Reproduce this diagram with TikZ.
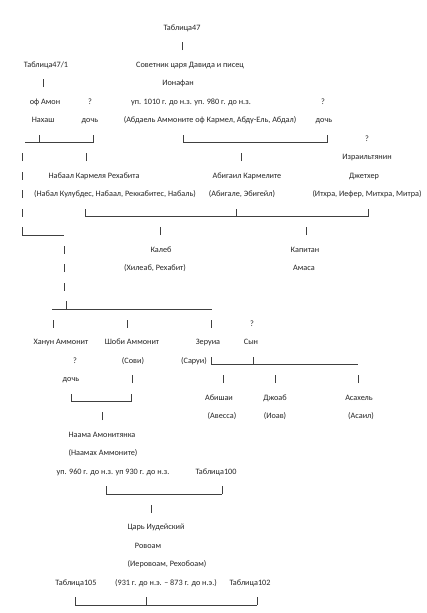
\documentclass[tikz,border=0pt]{standalone}
\usepackage{fontspec}
\setmainfont{Carlito}
\newcommand\vb[3]{\coordinate (#1a) at (#2,{30+18.5*#3+1.7}); \coordinate (#1b) at (#2,{30+18.5*#3-6.3}); \draw[ln] (#1a) -- (#1b);}
\newcommand\hb[4]{\coordinate (#1a) at (#2,{30+18.5*#4+1.3}); \coordinate (#1b) at (#3,{30+18.5*#4+1.3}); \draw[ln] (#1a) -- (#1b);}
\begin{document}
\begin{tikzpicture}[x=1pt,y=-1pt,
  txt/.style={font=\fontsize{8.2}{10}\selectfont, inner sep=0pt, anchor=base, text=black!85},
  ln/.style={line width=0.55pt, draw=black!75}]
\fill[white] (0,0) rectangle (427,613);
\useasboundingbox (0,0) rectangle (427,613);
% row 0-3
\node[txt] (t47) at (182,{30+18.5*0}) {Таблица47};
\vb{b1}{182}{1}
\node[txt] (t471) at (46,{30+18.5*2}) {Таблица47/1};
\node[txt] (sovet) at (190,{30+18.5*2}) {Советник царя Давида и писец};
\vb{b3}{43}{3}
\node[txt] (ionafan) at (178,{30+18.5*3}) {Ионафан};
% row 4-5
\node[txt] (ofamon) at (45,{30+18.5*4}) {оф Амон};
\node[txt] (q1) at (90,{30+18.5*4}) {?};
\node[txt] (up1010) at (191,{30+18.5*4}) {уп. 1010 г. до н.з. уп. 980 г. до н.з.};
\node[txt] (q2) at (323,{30+18.5*4}) {?};
\node[txt] (nahash) at (43,{30+18.5*5}) {Нахаш};
\node[txt] (doch1) at (90,{30+18.5*5}) {дочь};
\node[txt] (abdael) at (210,{30+18.5*5}) {(Абдаель Аммоните оф Кармел, Абду-Ель, Абдал)};
\node[txt] (doch2) at (324,{30+18.5*5}) {дочь};
% row 6
\hb{h6a}{25}{93}{6}
\vb{b6a}{39}{6}
\vb{b6b}{93}{6}
\hb{h6b}{183}{327}{6}
\vb{b6c}{183}{6}
\vb{b6d}{327}{6}
\node[txt] (q3) at (367,{30+18.5*6}) {?};
% row 7-9
\vb{b7a}{22}{7}
\vb{b7b}{86}{7}
\vb{b7c}{241}{7}
\node[txt] (israel) at (367,{30+18.5*7}) {Израильтянин};
\vb{b8a}{22}{8}
\node[txt] (nabaal) at (94,{30+18.5*8}) {Набаал Кармеля Рехабита};
\node[txt] (abigail) at (247,{30+18.5*8}) {Абигаил Кармелите};
\node[txt] (jether) at (364,{30+18.5*8}) {Джетхер};
\vb{b9a}{22}{9}
\node[txt] (nabal) at (115,{30+18.5*9}) {(Набал Кулубдес, Набаал, Реккабитес, Набаль)};
\node[txt] (abigale) at (242,{30+18.5*9}) {(Абигале, Эбигейл)};
\node[txt] (ithra) at (367,{30+18.5*9}) {(Итхра, Иефер, Митхра, Митра)};
% row 10
\vb{b10a}{22}{10}
\hb{h10}{85}{368}{10}
\vb{b10b}{85}{10}
\vb{b10c}{236}{10}
\vb{b10d}{368}{10}
% row 11-14
\vb{b11a}{22}{11}
\hb{h11}{22}{64}{11}
\vb{b11b}{160}{11}
\vb{b11c}{306}{11}
\vb{b12}{64}{12}
\node[txt] (kaleb) at (161,{30+18.5*12}) {Калеб};
\node[txt] (kapitan) at (305,{30+18.5*12}) {Капитан};
\vb{b13}{64}{13}
\node[txt] (hileab) at (155,{30+18.5*13}) {(Хилеаб, Рехабит)};
\node[txt] (amasa) at (304,{30+18.5*13}) {Амаса};
\vb{b14}{64}{14}
% row 15-16
\hb{h15}{52}{212}{15}
\vb{b15}{66}{15}
\vb{b16a}{53}{16}
\vb{b16b}{127}{16}
\vb{b16c}{211}{16}
\node[txt] (q4) at (252,{30+18.5*16}) {?};
% row 17-18
\node[txt] (hanun) at (61,{30+18.5*17}) {Ханун Аммонит};
\node[txt] (shobi) at (132,{30+18.5*17}) {Шоби Аммонит};
\node[txt] (zeruia) at (208,{30+18.5*17}) {Зеруиа};
\node[txt] (syn) at (251,{30+18.5*17}) {Сын};
\node[txt] (q5) at (75,{30+18.5*18}) {?};
\node[txt] (sovi) at (133,{30+18.5*18}) {(Сови)};
\node[txt] (sarui) at (194,{30+18.5*18}) {(Саруи)};
\hb{h18}{211}{358}{18}
\vb{b18a}{211}{18}
\vb{b18b}{253}{18}
% row 19-21
\node[txt] (doch3) at (71,{30+18.5*19}) {дочь};
\vb{b19a}{132}{19}
\vb{b19b}{223}{19}
\vb{b19c}{275}{19}
\vb{b19d}{358}{19}
\hb{h20}{71}{131}{20}
\vb{b20a}{71}{20}
\vb{b20b}{131}{20}
\node[txt] (abishai) at (219,{30+18.5*20}) {Абишаи};
\node[txt] (joab) at (275,{30+18.5*20}) {Джоаб};
\node[txt] (asahel) at (359,{30+18.5*20}) {Асахель};
\vb{b21}{102}{21}
\node[txt] (avessa) at (222,{30+18.5*21}) {(Авесса)};
\node[txt] (ioav) at (275,{30+18.5*21}) {(Иоав)};
\node[txt] (asail) at (361,{30+18.5*21}) {(Асаил)};
% row 22-26
\node[txt] (naama) at (102,{30+18.5*22}) {Наама Амонитянка};
\node[txt] (naamah) at (103,{30+18.5*23}) {(Наамах Аммоните)};
\node[txt] (up960) at (113,{30+18.5*24}) {уп. 960 г. до н.з. уп 930 г. до н.з.};
\node[txt] (t100) at (216,{30+18.5*24}) {Таблица100};
\hb{h25}{106}{222}{25}
\vb{b25a}{106}{25}
\vb{b25b}{222}{25}
\vb{b26}{151}{26}
% row 27-31
\node[txt] (tsar) at (156,{30+18.5*27}) {Царь Иудейский};
\node[txt] (rovoam) at (148,{30+18.5*28}) {Ровоам};
\node[txt] (ierovoam) at (167,{30+18.5*29}) {(Иеровоам, Рехобоам)};
\node[txt] (t105) at (76,{30+18.5*30}) {Таблица105};
\node[txt] (y931) at (166,{30+18.5*30}) {(931 г. до н.э. – 873 г. до н.э.)};
\node[txt] (t102) at (250,{30+18.5*30}) {Таблица102};
\hb{h31}{75}{257}{31}
\vb{b31a}{75}{31}
\vb{b31b}{146}{31}
\vb{b31c}{257}{31}
\end{tikzpicture}
\end{document}
